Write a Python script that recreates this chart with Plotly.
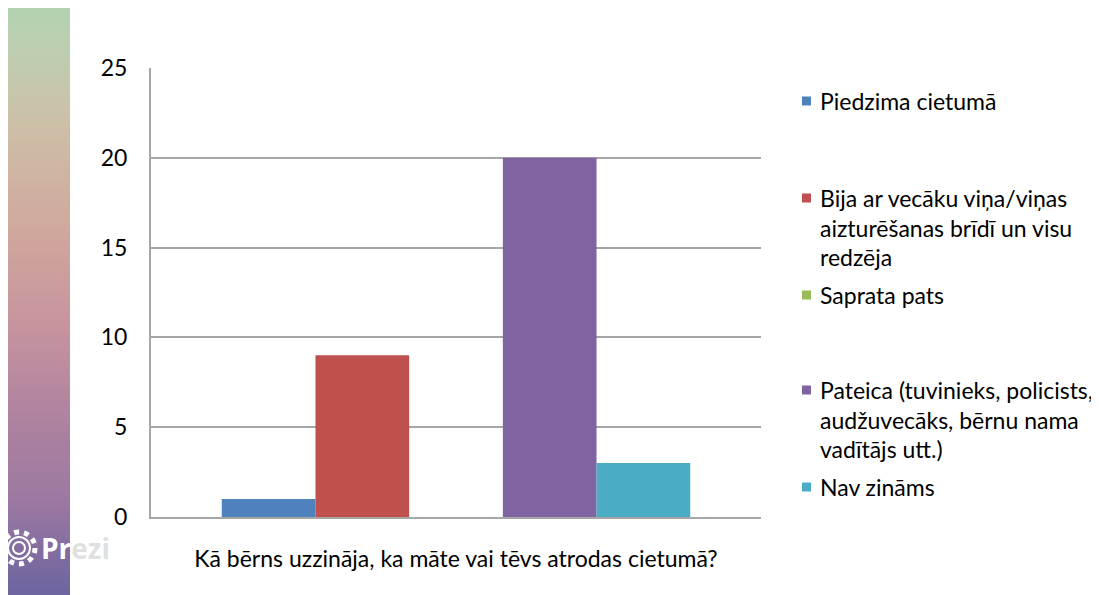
import plotly.graph_objects as go

# data
category = ["Kā bērns uzzināja, ka māte vai tēvs atrodas cietumā?"]
series_names = [
    "Piedzima cietumā",
    "Bija ar vecāku viņa/viņas\naizturēšanas brīdī un visu\nredzēja",
    "Saprata pats",
    "Pateica (tuvinieks, policists,\naudžuvecāks, bērnu nama\nvadītājs utt.)",
    "Nav zināms",
]
series_values = [1, 9, 0, 20, 3]
series_colors = ["#4F81BD", "#C0504D", "#9BBB59", "#8064A2", "#4BACC6"]
y_ticks = [0, 5, 10, 15, 20, 25]

FONT = "Lato"
OFF = 8  # page body margin
W, H = 1099 - OFF, 595 - OFF
# plot area in window pixels
L, R, T, B = 151, 761, 68, 517


def px_x(x):
    return (x - L) / (R - L)


def px_y(y):
    return (B - y) / (B - T)


fig = go.Figure()

for name, val, col in zip(series_names, series_values, series_colors):
    fig.add_trace(go.Bar(
        x=category,
        y=[val],
        name=name.replace("\n", " "),
        marker={"color": col, "line": {"width": 0}},
        showlegend=False,
    ))

shapes = []
annotations = []

# decorative strip on the left (Prezi background)
stops = [
    (0, (176, 212, 176)),
    (50, (190, 206, 176)),
    (130, (206, 190, 166)),
    (230, (207, 168, 156)),
    (320, (200, 148, 158)),
    (420, (174, 130, 160)),
    (500, (156, 121, 161)),
    (595, (108, 100, 160)),
]


def strip_color(y):
    for (y0, c0), (y1, c1) in zip(stops[:-1], stops[1:]):
        if y0 <= y <= y1:
            t = (y - y0) / (y1 - y0)
            c = [round(a + (b - a) * t) for a, b in zip(c0, c1)]
            return "rgb({},{},{})".format(*c)
    return "rgb({},{},{})".format(*stops[-1][1])


step = 5
for y in range(0, 600, step):
    shapes.append(dict(
        type="rect", xref="paper", yref="paper", layer="below",
        x0=px_x(8), x1=px_x(70), y0=px_y(y + step + 0.5), y1=px_y(y),
        fillcolor=strip_color(y + step / 2), line={"width": 0},
    ))

annotations.append(dict(
    xref="paper", yref="paper", x=px_x(39), y=px_y(548),
    xanchor="left", yanchor="middle", showarrow=False,
    text="<b><span style='color:white'>Pr</span>"
         "<span style='color:rgba(220,220,220,0.9)'>ezi</span></b>",
    font={"family": "Open Sans", "size": 28},
))
for r, dash, wdt in [(16, "dot", 5), (11, "solid", 2), (6, "solid", 2)]:
    shapes.append(dict(
        type="circle", xref="paper", yref="paper",
        x0=px_x(19 - r), x1=px_x(19 + r), y0=px_y(548 + r), y1=px_y(548 - r),
        line={"color": "white", "width": wdt, "dash": dash},
    ))

# legend drawn by hand to keep Excel's spacing
first_line_y = [101, 198, 295, 390, 487]
line_gap = 29.5
for name, col, y0 in zip(series_names, series_colors, first_line_y):
    shapes.append(dict(
        type="rect", xref="paper", yref="paper",
        x0=px_x(802), x1=px_x(811), y0=px_y(y0 + 4.5), y1=px_y(y0 - 4.5),
        fillcolor=col, line={"width": 0},
    ))
    for i, line in enumerate(name.split("\n")):
        annotations.append(dict(
            xref="paper", yref="paper", x=px_x(818), y=px_y(y0 + i * line_gap),
            xanchor="left", yanchor="middle", showarrow=False,
            text=line, font={"family": FONT, "size": 23, "color": "#000000"},
        ))

fig.update_layout(
    width=W,
    height=H,
    barmode="group",
    bargap=0.232,
    bargroupgap=0,
    paper_bgcolor="white",
    plot_bgcolor="white",
    font={"family": FONT, "size": 23, "color": "#000000"},
    margin={"l": L - OFF, "r": W + OFF - R, "t": T - OFF, "b": H + OFF - B, "pad": 0},
    shapes=shapes,
    annotations=annotations,
)

fig.update_xaxes(
    showline=True,
    linecolor="#A6A6A6",
    linewidth=2,
    showgrid=False,
    ticks="",
    ticklabelstandoff=20,
    tickfont={"size": 23},
)

fig.update_yaxes(
    range=[0, 25],
    tickvals=y_ticks,
    showline=True,
    linecolor="#A6A6A6",
    linewidth=2,
    showgrid=True,
    gridcolor="#A6A6A6",
    gridwidth=2,
    zeroline=False,
    ticks="",
    ticklabelstandoff=17,
    tickfont={"size": 23},
)

fig.write_html("out.html")
